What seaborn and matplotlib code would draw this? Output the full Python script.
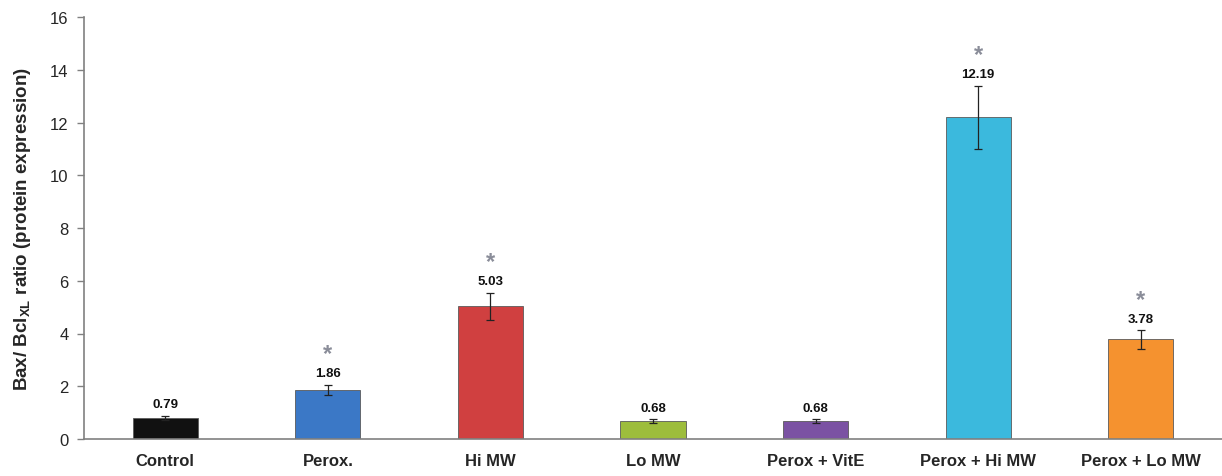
import matplotlib
matplotlib.use("Agg")
import matplotlib.pyplot as plt
import seaborn as sns
import pandas as pd
import numpy as np

# Data
groups = ["Control", "Perox.", "Hi MW", "Lo MW", "Perox + VitE", "Perox + Hi MW", "Perox + Lo MW"]
ratio = [0.79, 1.86, 5.03, 0.68, 0.68, 12.19, 3.78]
sem = [0.08, 0.20, 0.52, 0.06, 0.07, 1.21, 0.35]
significant = [False, True, True, False, False, True, True]
bar_colors = ["#111111", "#3b78c6", "#d04040", "#9dbd3c", "#7b52a3", "#3bb9dd", "#f5922f"]
y_ticks = [0, 2, 4, 6, 8, 10, 12, 14, 16]

sns.set_theme(style="white")
plt.rcParams["font.family"] = ["Liberation Sans", "DejaVu Sans"]
plt.rcParams["mathtext.fontset"] = "custom"
plt.rcParams["mathtext.rm"] = "Liberation Sans"
plt.rcParams["mathtext.bf"] = "Liberation Sans:bold"

df = pd.DataFrame({"group": groups, "ratio": ratio})

fig = plt.figure(figsize=(12.22, 4.77), dpi=100)
ax = fig.add_axes([84 / 1222, 1 - 440 / 477, 1 - 84 / 1222, (440 - 18) / 477])

sns.barplot(data=df, x="group", y="ratio", hue="group", palette=bar_colors,
            order=groups, hue_order=groups, width=0.4, legend=False, ax=ax,
            saturation=1, edgecolor="#5a5a5a", linewidth=0.6, errorbar=None)

xpos = np.arange(len(groups))
ax.errorbar(xpos, ratio, yerr=sem, fmt="none", ecolor="#222222", elinewidth=0.9,
            capsize=3, capthick=0.9, zorder=4)

for i, (v, e, s) in enumerate(zip(ratio, sem, significant)):
    top = v + e
    ax.annotate(f"{v:.2f}", (i, top), xytext=(0, 4), textcoords="offset points",
                ha="center", va="bottom", fontsize=9.5, fontweight="bold", color="#111111")
    if s:
        ax.annotate("*", (i, top), xytext=(0, 14), textcoords="offset points",
                    ha="center", va="bottom", fontsize=17, fontweight="bold", color="#8a8d99")

ax.set_xlim(-0.5, len(groups) - 0.5)
ax.set_ylim(0, 16)
ax.set_yticks(y_ticks)
ax.set_yticklabels([str(t) for t in y_ticks], fontsize=12)
ax.set_xlabel("")
ax.set_ylabel(r"Bax/ Bcl$_{\mathbf{XL}}$ ratio (protein expression)", fontsize=13.5,
              fontweight="bold", labelpad=12)
ax.tick_params(axis="x", length=0, labelsize=12, pad=10)
ax.tick_params(axis="y", length=5, width=1, color="#808080", direction="out", left=True, pad=6)
for lbl in ax.get_xticklabels():
    lbl.set_fontweight("bold")

for side in ["top", "right"]:
    ax.spines[side].set_visible(False)
for side in ["left", "bottom"]:
    ax.spines[side].set_color("#808080")
    ax.spines[side].set_linewidth(1.2)

fig.savefig("out.png", dpi=100)
